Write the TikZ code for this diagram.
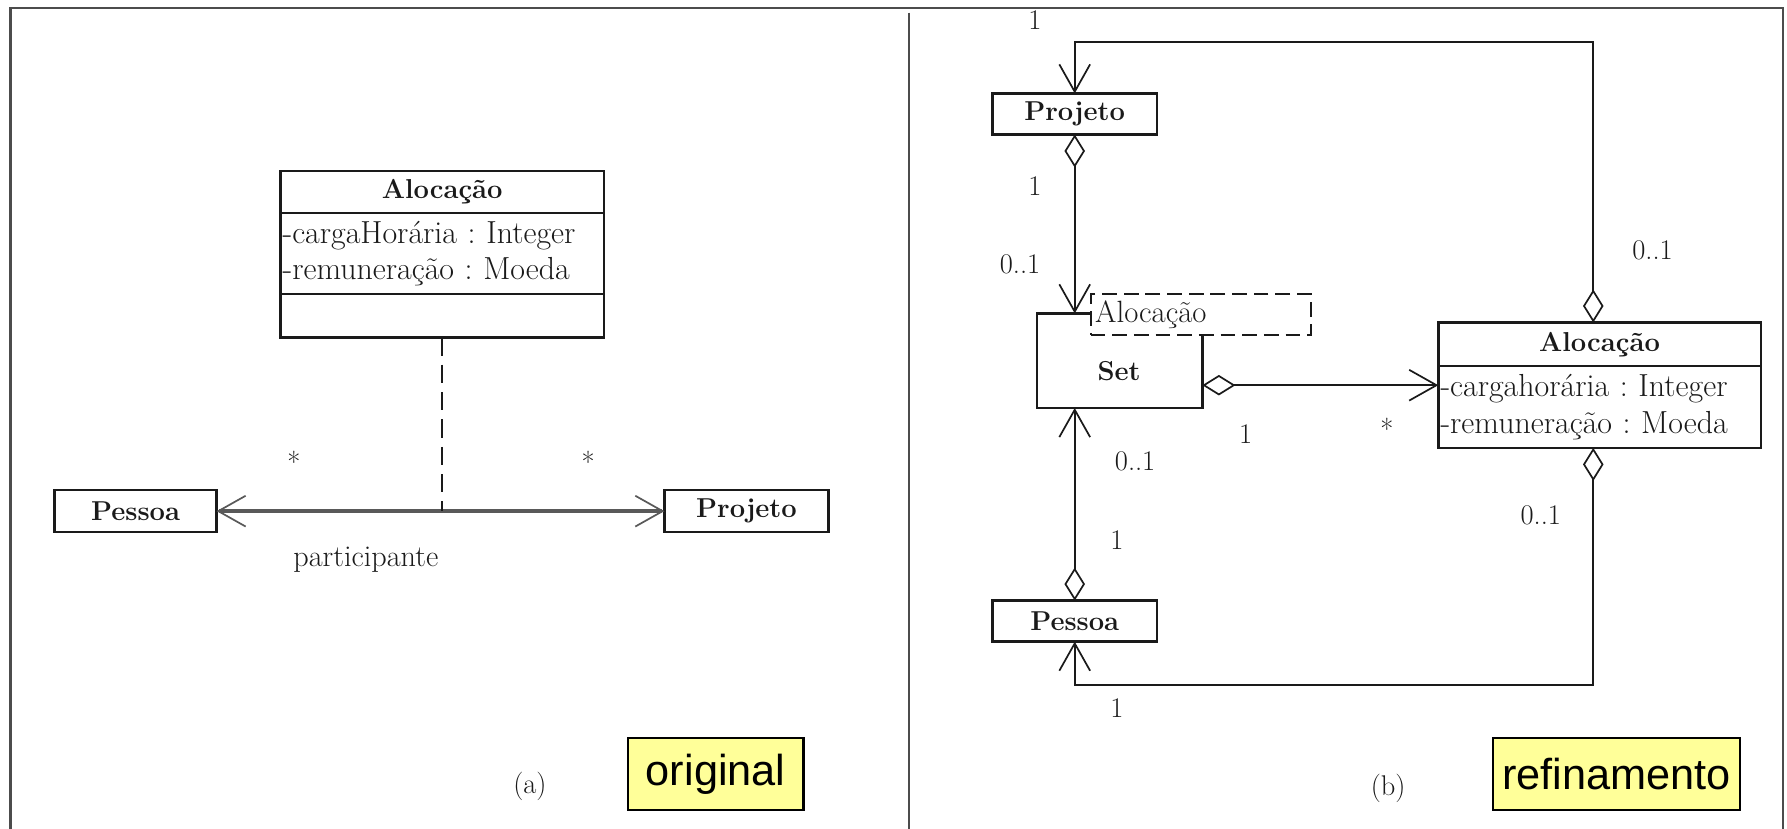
\documentclass[tikz,border=0pt]{standalone}
\usepackage{fontspec}
\newfontfamily\arialfont{Liberation Sans}
\usetikzlibrary{arrows.meta,calc}
\definecolor{noteyellow}{HTML}{FFFF99}
\definecolor{ink}{HTML}{1A1A1A}
\frenchspacing
\begin{document}
\begin{tikzpicture}[x=1pt,y=-1pt,
  box/.style={draw=ink,line width=2.2pt,fill=white,inner sep=0pt,outer sep=0pt,text=ink},
  clsname/.style={font=\bfseries\fontsize{24}{28}\selectfont},
  attrs/.style={font=\fontsize{28}{32}\selectfont,align=left,inner xsep=2pt,inner ysep=0pt},
  lbl/.style={font=\fontsize{25}{30}\selectfont,inner sep=0pt,text=ink},
  conn/.style={draw=ink,line width=1.5pt},
  aggr/.style={{Diamond[open,length=29pt,width=18pt,line width=1.5pt]}-{Straight Barb[length=24pt,width=27pt,line width=1.5pt]}},
  assocline/.style={draw=black!65,line width=3pt},
  dashlink/.style={draw=ink,line width=1.8pt,dash pattern=on 16pt off 8pt},
  tmpl/.style={draw=ink,line width=1.8pt,dash pattern=on 13pt off 6pt,fill=white,inner sep=0pt,outer sep=0pt},
  framel/.style={draw=black!70,line width=2.5pt},
  note/.style={draw=black,line width=2pt,fill=noteyellow,inner sep=0pt,font=\arialfont\fontsize{38}{40}\selectfont}
]
\useasboundingbox (0,0) rectangle (1568,727.4);

% frame
\draw[framel] (9,740) -- (9,7) -- (1564.5,7) -- (1564.5,740);
\draw[draw=black!70,line width=2pt] (797.5,11) -- (797.5,740);

% ---------- panel (a)
\node[box,clsname,minimum width=284pt,minimum height=37pt] (aH) at (388,168.5) {Alocação};
\node[box,attrs,minimum width=284pt,minimum height=71pt,text width=280pt,anchor=north] (aA) at (aH.south) {-cargaHorária : Integer\\-remuneração : Moeda};
\node[box,minimum width=284pt,minimum height=38pt,anchor=north] (aO) at (aA.south) {};

\node[box,clsname,minimum width=142pt,minimum height=37pt] (pA) at (119,448.5) {Pessoa};
\node[box,clsname,minimum width=144pt,minimum height=37pt] (jA) at (655,448.5) {Projeto};
\coordinate (jn) at (388,448.5);

\draw[assocline,{Straight Barb[length=24pt,width=27pt,line width=1.5pt]}-{Straight Barb[length=24pt,width=27pt,line width=1.5pt]}] (pA.east) -- (jA.west);
\draw[dashlink] (aO.south) -- (jn);

\node[lbl] (sa1) at (258,405) {*};
\node[lbl] (sa2) at (516,405) {*};
\node[lbl,font=\fontsize{26.5}{30}\selectfont] (part) at (321,491) {participante};
\node[lbl] (capa) at (465,690) {(a)};
\node[note,minimum width=154pt,minimum height=63pt] (orig) at (628,679) {original};

% ---------- panel (b)
\node[box,clsname,minimum width=144pt,minimum height=36pt] (jB) at (943,100) {Projeto};
\node[box,minimum width=145pt,minimum height=83pt] (sB) at (982.5,316.5) {};
\node[clsname,text=ink,inner sep=0pt] (sBt) at (982,326) {Set};
\node[tmpl,minimum width=193pt,minimum height=36pt,text width=185pt,align=left,inner xsep=4pt,font=\fontsize{27}{30}\selectfont,text=ink,anchor=north west] (tB) at (957,258) {Alocação};

\node[box,clsname,minimum width=283pt,minimum height=38pt] (lH) at (1403.5,302) {Alocação};
\node[box,attrs,minimum width=283pt,minimum height=72pt,text width=279pt,anchor=north] (lA) at (lH.south) {-cargahorária : Integer\\-remuneração : Moeda};

\node[box,clsname,minimum width=144pt,minimum height=36pt] (pB) at (943,545) {Pessoa};

\coordinate (topc) at (1398,37);
\coordinate (botc) at (1398,601);
\coordinate (midr) at (1160,338);

\draw[conn,aggr] (jB.south) -- (jB.south |- sB.north);
\draw[conn,aggr] (pB.north) -- (pB.north |- sB.south);
\draw[conn,aggr] (sB.east |- midr) -- (lA.west |- midr);
\draw[conn,aggr] (lH.north -| topc) -- (topc) -| (jB.north);
\draw[conn,aggr] (lA.south -| botc) -- (botc) -| (pB.south);

\node[lbl] (m1) at (908,18) {1};
\node[lbl] (m2) at (1450,220) {0..1};
\node[lbl] (m3) at (908,163) {1};
\node[lbl] (m4) at (895,232) {0..1};
\node[lbl] (m5) at (1093,381) {1};
\node[lbl] (m6) at (1217,376) {*};
\node[lbl] (m7) at (996,405) {0..1};
\node[lbl] (m8) at (980,474) {1};
\node[lbl] (m9) at (1352,452) {0..1};
\node[lbl] (m10) at (980,621) {1};
\node[lbl] (capb) at (1218,692) {(b)};
\node[note,minimum width=217pt,minimum height=63pt] (refi) at (1418.5,679) {refinamento};
\end{tikzpicture}
\end{document}
